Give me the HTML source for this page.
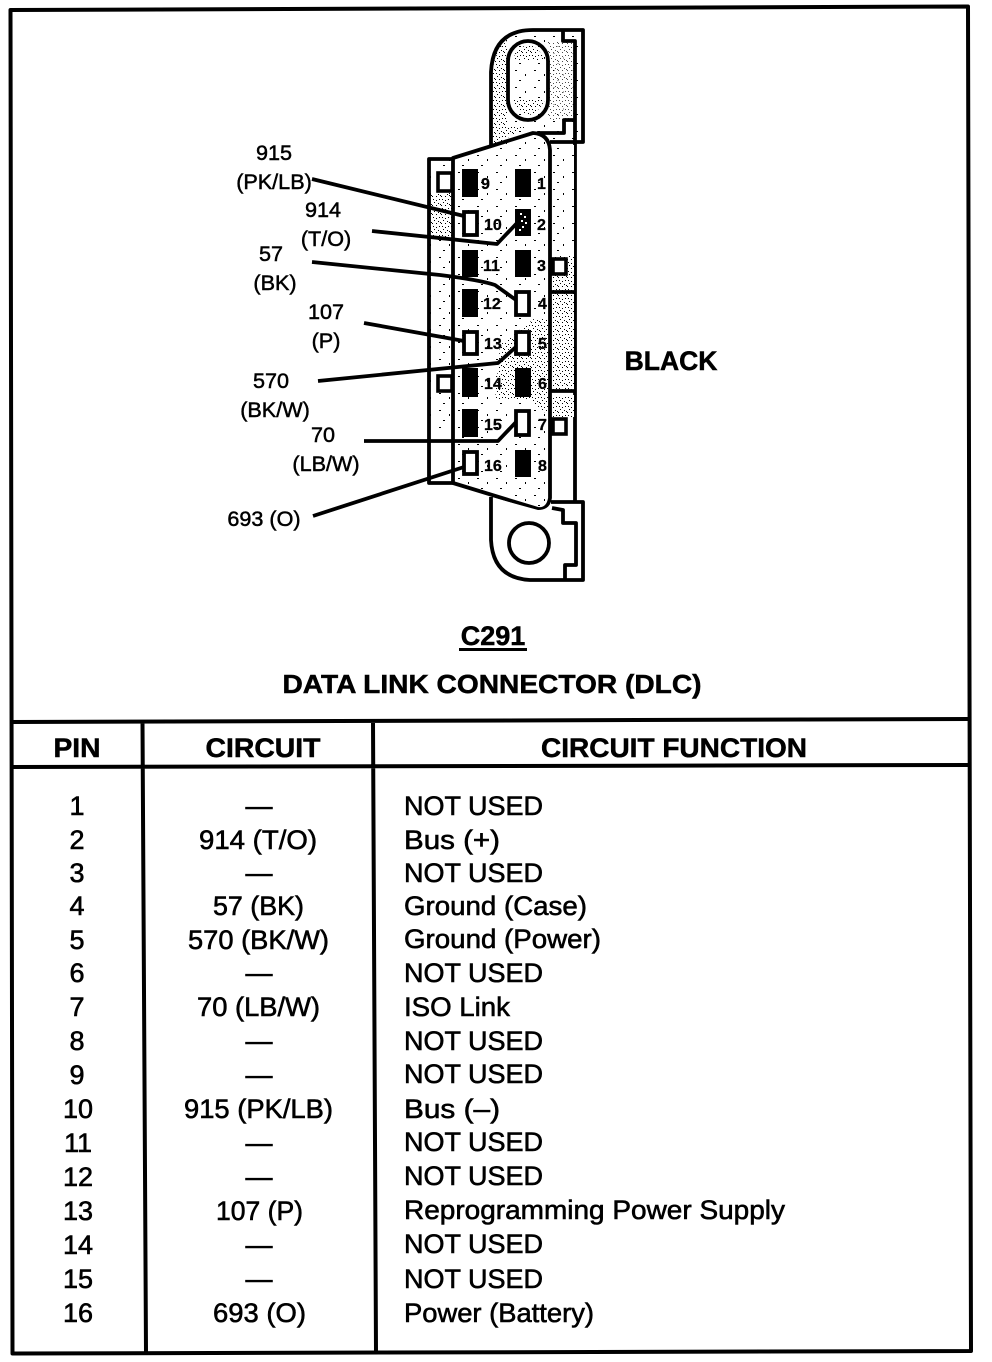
<!DOCTYPE html>
<html><head><meta charset="utf-8"><style>
html,body{margin:0;padding:0;background:#fff}
svg{display:block}
text{font-family:"Liberation Sans",sans-serif;fill:#000;stroke:#000;stroke-width:.6}
.h{font-size:27px;font-weight:bold;text-anchor:middle;stroke-width:.5}
.l{font-size:21.6px;text-anchor:middle;stroke-width:.5}
.n{font-size:16px;font-weight:bold;stroke-width:.3}
.ln{fill:none;stroke:#000;stroke-width:3.8;stroke-linejoin:round}
.t{fill:none;stroke:#000;stroke-width:4;stroke-linejoin:round}
</style></head><body>
<svg width="992" height="1362" viewBox="0 0 992 1362" xmlns="http://www.w3.org/2000/svg">
<defs>
<pattern id="d" width="9" height="9" patternUnits="userSpaceOnUse">
<rect width="9" height="9" fill="#fff"/>
<rect x="1" y="1" width="1" height="1"/><rect x="4" y="2" width="1" height="1"/><rect x="7" y="1" width="1" height="1"/>
<rect x="2" y="4" width="1" height="1"/><rect x="6" y="5" width="1" height="1"/>
<rect x="0" y="7" width="1" height="1"/><rect x="4" y="7" width="1" height="1"/><rect x="8" y="6" width="1" height="1"/>
</pattern>
<pattern id="s" width="19" height="17" patternUnits="userSpaceOnUse">
<rect width="19" height="17" fill="#fff"/>
<rect x="2" y="2" width="2" height="1"/><rect x="12" y="6" width="1" height="2"/><rect x="6" y="12" width="2" height="1"/>
</pattern>
</defs>
<rect width="992" height="1362" fill="#fff"/>

<!-- frame -->
<path class="t" d="M10.5 10 L968 6.5 L971 1351 L12.5 1353.500 Z"/>
<path class="t" d="M11 722 L969 719 M11 767 L969 765 M142.500 722 L146 1352 M373 721 L376 1352"/>

<!-- top tab -->
<path d="M491 146 L491 72 Q493 30 533 30 L583 30 L583 142 L550 142 L533 133 Z" fill="url(#s)"/>
<path d="M493 146 L493 72 Q494 50 508 40 L508 125 L530 125 L500 142 Z" fill="url(#d)"/>
<path d="M548 42 H575 V120 H548 Z" fill="url(#d)" opacity=".7"/>
<path class="ln" d="M491 146 L491 72 Q493 30 533 30 L583 30 L583 142 L550 142"/>
<path class="ln" d="M563 30 L563 41 L575 41 L575 502"/>
<path class="ln" d="M575 120 L564 120 L564 133 L537 133"/>
<rect x="508" y="41" width="40" height="79" rx="20" ry="20" fill="url(#s)" stroke="#000" stroke-width="3.8"/>
<path d="M512 60 Q528 30 545 60 Z M512 100 Q528 130 545 100 Z" fill="url(#d)"/>

<!-- rail shading -->
<rect x="552" y="145" width="22" height="110" fill="url(#s)"/>
<rect x="552" y="255" width="22" height="135" fill="url(#d)"/>
<rect x="552" y="395" width="22" height="22" fill="url(#d)"/>
<path class="ln" d="M550 292 L575 292 M550 391 L575 391"/>

<!-- left box -->
<path d="M430 160 H453 V430 H430 Z" fill="url(#s)"/>
<path d="M431 194 H452 V240 H431 Z" fill="url(#d)"/>
<path class="ln" d="M453 159 L429 159 L429 483 L453 483"/>

<!-- body -->
<path d="M453 158 L533 133 Q549 134 550 150 L550 498 Q548 510 538 509 L453 483 Z" fill="url(#s)" stroke="#000" stroke-width="3.8" stroke-linejoin="round"/>
<path d="M500 345 L535 318 L548 318 V415 L530 400 L495 400 Z" fill="url(#d)"/>

<!-- bottom tab -->
<path d="M491 497 L538 510 Q548 510 551 502 L583 502 L583 580 L530 580 Q491 578 491 540 Z" fill="#fff"/>
<path class="ln" d="M491 497 L491 540 Q493 578 530 580 L583 580 L583 502 L551 502"/>
<path class="ln" d="M552 508 L563 510 L563 523 L576 523 L576 565 L565 565 L565 580"/>
<circle cx="529" cy="543" r="20" fill="#fff" stroke="#000" stroke-width="3.8"/>

<!-- small squares -->
<rect x="438" y="173" width="14" height="18" fill="#fff" stroke="#000" stroke-width="3.6"/>
<rect x="438" y="376" width="14" height="15" fill="#fff" stroke="#000" stroke-width="3.6"/>
<rect x="553" y="259" width="13" height="15" fill="#fff" stroke="#000" stroke-width="3.6"/>
<rect x="553" y="419" width="13" height="15" fill="#fff" stroke="#000" stroke-width="3.6"/>

<!-- black pins -->
<rect x="462" y="169" width="16" height="28"/><rect x="515" y="169" width="16" height="28"/>
<rect x="462" y="250" width="16" height="27"/><rect x="515" y="250" width="16" height="27"/>
<rect x="462" y="289" width="16" height="28"/>
<rect x="462" y="368" width="16" height="29"/><rect x="515" y="368" width="16" height="29"/>
<rect x="462" y="409" width="16" height="28"/>
<rect x="515" y="450" width="16" height="27"/>
<rect x="515" y="209" width="16" height="27"/>
<g fill="#fff"><rect x="520" y="213" width="2" height="2"/><rect x="524" y="216" width="2" height="2"/><rect x="521" y="220" width="2" height="2"/><rect x="525" y="222" width="2" height="2"/><rect x="522" y="226" width="2" height="2"/><rect x="519" y="229" width="2" height="2"/></g>

<!-- leader lines -->
<path class="ln" d="M312 179 L464 216"/>
<path class="ln" d="M372 231 L497 244 L517 223"/>
<path class="ln" d="M312 262 L440 275 Q480 280 495 285 L516 300"/>
<path class="ln" d="M364 323 L464 341"/>
<path class="ln" d="M318 381 L498 363 L517 346"/>
<path class="ln" d="M364 441 L498 441 L517 421"/>
<path class="ln" d="M313 516 L464 467"/>

<!-- hollow pins -->
<g fill="#fff" stroke="#000" stroke-width="3.8">
<rect x="464" y="212" width="13" height="23"/>
<rect x="516" y="292" width="13" height="23"/>
<rect x="464" y="332" width="13" height="22"/>
<rect x="516" y="332" width="13" height="22"/>
<rect x="516" y="411" width="13" height="24"/>
<rect x="464" y="452" width="13" height="22"/>
</g>

<!-- pin numbers -->
<text class="n" x="481" y="189">9</text><text class="n" x="537" y="189">1</text>
<text class="n" x="484" y="230">10</text><text class="n" x="537" y="230">2</text>
<text class="n" x="483" y="271">11</text><text class="n" x="537" y="271">3</text>
<text class="n" x="483" y="309">12</text><text class="n" x="538" y="309">4</text>
<text class="n" x="484" y="349">13</text><text class="n" x="538" y="349">5</text>
<text class="n" x="484" y="389">14</text><text class="n" x="538" y="389">6</text>
<text class="n" x="484" y="430">15</text><text class="n" x="538" y="430">7</text>
<text class="n" x="484" y="471">16</text><text class="n" x="538" y="471">8</text>

<!-- wire labels -->
<text class="l" x="274" y="160">915</text>
<text class="l" x="274" y="189">(PK/LB)</text>
<text class="l" x="323" y="217">914</text>
<text class="l" x="326" y="246">(T/O)</text>
<text class="l" x="271" y="261">57</text>
<text class="l" x="275" y="290">(BK)</text>
<text class="l" x="326" y="319">107</text>
<text class="l" x="326" y="348">(P)</text>
<text class="l" x="271" y="388">570</text>
<text class="l" x="275" y="417">(BK/W)</text>
<text class="l" x="323" y="442">70</text>
<text class="l" x="326" y="471">(LB/W)</text>
<text class="l" x="264" y="526">693 (O)</text>

<text x="671" y="370" font-size="26.500" font-weight="bold" text-anchor="middle" style="stroke-width:.5">BLACK</text>

<text x="493" y="645" font-size="27" font-weight="bold" text-anchor="middle" style="stroke-width:.5">C291</text>
<rect x="459" y="648" width="68" height="3"/>
<text x="492" y="693" font-size="26" font-weight="bold" text-anchor="middle" textLength="419" lengthAdjust="spacingAndGlyphs" style="stroke-width:.5">DATA LINK CONNECTOR (DLC)</text>

<text class="h" x="77" y="757" textLength="47" lengthAdjust="spacingAndGlyphs">PIN</text>
<text class="h" x="263" y="757" textLength="115" lengthAdjust="spacingAndGlyphs">CIRCUIT</text>
<text class="h" x="674" y="757" textLength="266" lengthAdjust="spacingAndGlyphs">CIRCUIT FUNCTION</text>

<g text-anchor="middle" font-size="27">
<text x="77" y="815">1</text><text x="77" y="849">2</text><text x="77" y="882">3</text><text x="77" y="915">4</text>
<text x="77" y="949">5</text><text x="77" y="982">6</text><text x="77" y="1016">7</text><text x="77" y="1050">8</text>
<text x="77" y="1084">9</text><text x="78" y="1118">10</text><text x="78" y="1152">11</text><text x="78" y="1186">12</text>
<text x="78" y="1220">13</text><text x="78" y="1254">14</text><text x="78" y="1288">15</text><text x="78" y="1322">16</text>

<text x="259" y="815">—</text>
<text x="258" y="849" textLength="118" lengthAdjust="spacingAndGlyphs">914 (T/O)</text>
<text x="259" y="882">—</text>
<text x="258.500" y="915" textLength="91" lengthAdjust="spacingAndGlyphs">57 (BK)</text>
<text x="258.500" y="949" textLength="141" lengthAdjust="spacingAndGlyphs">570 (BK/W)</text>
<text x="259" y="982">—</text>
<text x="258.500" y="1016" textLength="123" lengthAdjust="spacingAndGlyphs">70 (LB/W)</text>
<text x="259" y="1050">—</text>
<text x="259" y="1084">—</text>
<text x="258.500" y="1118" textLength="149" lengthAdjust="spacingAndGlyphs">915 (PK/LB)</text>
<text x="259" y="1152">—</text>
<text x="259" y="1186">—</text>
<text x="259.500" y="1220" textLength="87" lengthAdjust="spacingAndGlyphs">107 (P)</text>
<text x="259" y="1254">—</text>
<text x="259" y="1288">—</text>
<text x="259.500" y="1322" textLength="93" lengthAdjust="spacingAndGlyphs">693 (O)</text>
</g>

<g font-size="27">
<text x="404" y="815" textLength="139" lengthAdjust="spacingAndGlyphs">NOT USED</text>
<text x="404" y="849" textLength="96" lengthAdjust="spacingAndGlyphs">Bus (+)</text>
<text x="404" y="882" textLength="139" lengthAdjust="spacingAndGlyphs">NOT USED</text>
<text x="404" y="915" textLength="183" lengthAdjust="spacingAndGlyphs">Ground (Case)</text>
<text x="404" y="948" textLength="197" lengthAdjust="spacingAndGlyphs">Ground (Power)</text>
<text x="404" y="982" textLength="139" lengthAdjust="spacingAndGlyphs">NOT USED</text>
<text x="404" y="1016" textLength="106" lengthAdjust="spacingAndGlyphs">ISO Link</text>
<text x="404" y="1050" textLength="139" lengthAdjust="spacingAndGlyphs">NOT USED</text>
<text x="404" y="1083" textLength="139" lengthAdjust="spacingAndGlyphs">NOT USED</text>
<text x="404" y="1118" textLength="96" lengthAdjust="spacingAndGlyphs">Bus (–)</text>
<text x="404" y="1151" textLength="139" lengthAdjust="spacingAndGlyphs">NOT USED</text>
<text x="404" y="1185" textLength="139" lengthAdjust="spacingAndGlyphs">NOT USED</text>
<text x="404" y="1219" textLength="381" lengthAdjust="spacingAndGlyphs">Reprogramming Power Supply</text>
<text x="404" y="1253" textLength="139" lengthAdjust="spacingAndGlyphs">NOT USED</text>
<text x="404" y="1288" textLength="139" lengthAdjust="spacingAndGlyphs">NOT USED</text>
<text x="404" y="1322" textLength="190" lengthAdjust="spacingAndGlyphs">Power (Battery)</text>
</g>
</svg>
</body></html>
